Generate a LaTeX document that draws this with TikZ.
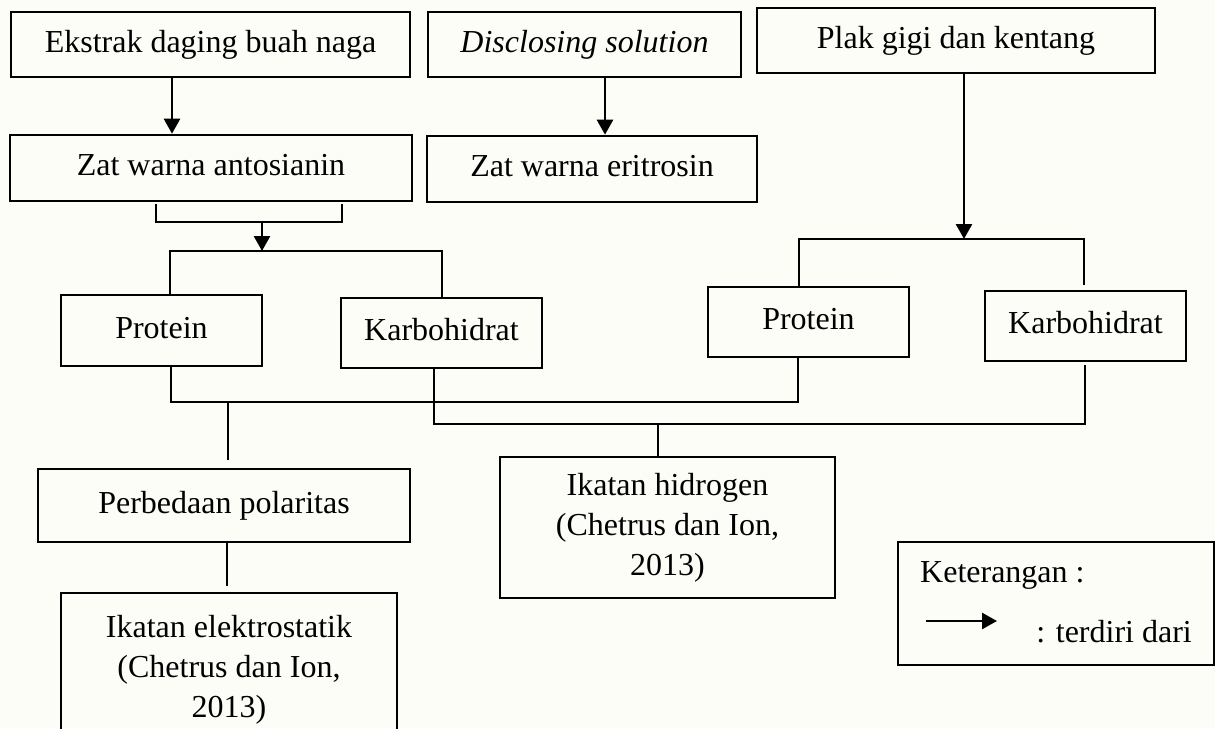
\documentclass[tikz,border=0pt]{standalone}
\usepackage{fontspec}
\setmainfont{Liberation Serif}
\usetikzlibrary{arrows.meta,calc}
\definecolor{bg}{RGB}{253,253,248}
\begin{document}
\begin{tikzpicture}[x=1pt,y=-1pt,
  lbl/.style={font=\fontsize{32}{40}\selectfont},
  box/.style={draw,line width=2.6pt,inner sep=0pt,align=center,lbl,text height=22pt,text depth=7pt},
  mbox/.style={draw,line width=2.6pt,inner sep=0pt,align=center,lbl},
  link/.style={line width=2.6pt},
  arr/.style={line width=2.6pt,-{Triangle[length=15pt,width=16pt]}}]
\fill[bg] (0,0) rectangle (1215,728);
\useasboundingbox (0,0) rectangle (1215,728);
\clip (0,0) rectangle (1215,728);

% top row
\node[box,minimum width=399pt,minimum height=65pt] (ekstrak) at (210.5,44.5) {Ekstrak daging buah naga};
\node[box,minimum width=313pt,minimum height=65pt] (disc) at (584.5,44.5) {\itshape Disclosing solution};
\node[box,minimum width=398pt,minimum height=65pt] (plak) at (956,40.5) {Plak gigi dan kentang};

% second row
\node[box,minimum width=402pt,minimum height=66pt] (antos) at (211,168) {Zat warna antosianin};
\node[box,minimum width=330pt,minimum height=66pt] (eritro) at (592,169) {Zat warna eritrosin};

% third row
\node[box,minimum width=201pt,minimum height=71pt] (prot1) at (161.5,330.5) {Protein};
\node[box,minimum width=201pt,minimum height=70pt] (karb1) at (441.5,333) {Karbohidrat};
\node[box,minimum width=201pt,minimum height=70pt] (prot2) at (808.5,322) {Protein};
\node[box,minimum width=201pt,minimum height=70pt] (karb2) at (1085.5,326) {Karbohidrat};

% lower boxes
\node[box,minimum width=372pt,minimum height=73pt] (perb) at (224,505.5) {Perbedaan polaritas};
\node[mbox,minimum width=336pt,minimum height=154pt] (elek) at (229,670) {Ikatan elektrostatik\\(Chetrus dan Ion,\\2013)};
\node[mbox,minimum width=335pt,minimum height=141pt] (hidro) at (667.5,527.5) {Ikatan hidrogen\\(Chetrus dan Ion,\\2013)};

% legend
\node[draw,line width=2.6pt,inner sep=0pt,minimum width=316pt,minimum height=123pt] (ket) at (1056,603.5) {};
\node[lbl,anchor=base west,inner sep=0pt] (ketlabel) at (920,582) {Keterangan :};
\node[lbl,anchor=base east,inner sep=0pt] (ketdesc) at (1192,642) {: terdiri dari};
\coordinate (la) at (926,621);
\coordinate (lb) at (997,621);
\draw[arr] (la) -- (lb);

% column coordinates
\coordinate (cA) at (172,0);
\coordinate (cB) at (605,0);
\coordinate (rjM) at (964,239);

% arrows from top row
\draw[arr] (ekstrak.south -| cA) -- (antos.north -| cA);
\draw[arr] (disc.south -| cB) -- (eritro.north -| cB);
\draw[arr] (plak.south -| rjM) -- (rjM);

% bracket under antosianin
\coordinate (lbL) at (156,204);
\coordinate (lbR) at (342,204);
\coordinate (lbM) at (262,222);
\coordinate (tjL) at (262,251);
\draw[link] (lbL) |- (lbM) -| (lbR);
\draw[arr] (lbM) -- (tjL);

% distributor to left protein / karbohidrat
\coordinate (tL) at (170,251);
\coordinate (tR) at (442,251);
\draw[link] (prot1.north -| tL) -- (tL) -- (tR) -- (karb1.north -| tR);

% distributor to right protein / karbohidrat
\coordinate (rL) at (799,239);
\coordinate (rR) at (1084,239);
\draw[link,shorten >=5pt] (prot2.north -| rL) -- (rL) -- (rR) -- (karb2.north -| rR);

% protein join
\coordinate (bL1) at (171,402);
\coordinate (bR1) at (798,402);
\draw[link] (prot1.south -| bL1) -- (bL1) -- (bR1) -- (prot2.south -| bR1);

% karbohidrat join
\coordinate (bL2) at (434,424);
\coordinate (bR2) at (1085,424);
\draw[link,shorten >=3pt] (karb1.south -| bL2) -- (bL2) -- (bR2) -- (karb2.south -| bR2);

% to perbedaan polaritas and ikatan hidrogen
\coordinate (pj) at (228,402);
\draw[link,shorten >=8pt] (pj) -- (perb.north -| pj);
\coordinate (hj) at (658,424);
\draw[link] (hj) -- (hidro.north -| hj);

% perbedaan -> elektrostatik
\coordinate (ej) at (227,0);
\draw[link,shorten >=6pt] (perb.south -| ej) -- (elek.north -| ej);
\end{tikzpicture}
\end{document}
